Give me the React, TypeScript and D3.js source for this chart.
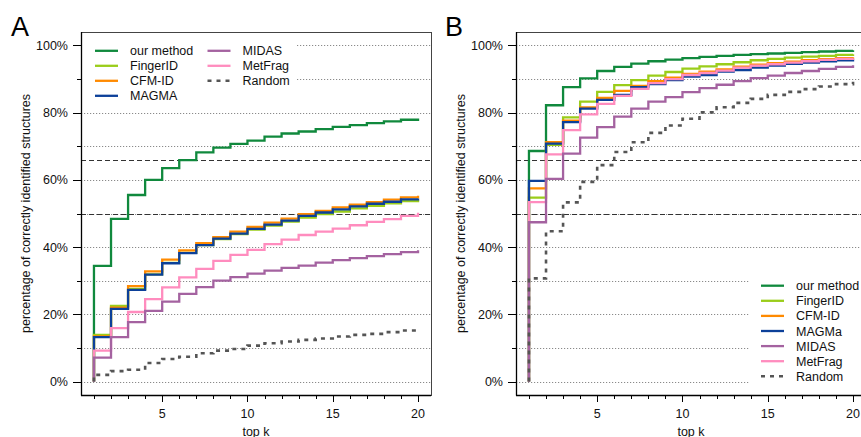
import React, { useEffect, useRef } from 'react';
import * as d3 from 'd3';

// values, percent of correctly identified structures
const topK = [1, 2, 3, 4, 5, 6, 7, 8, 9, 10, 11, 12, 13, 14, 15, 16, 17, 18, 19, 20];
const methodsA = ['our method', 'FingerID', 'CFM-ID', 'MAGMA', 'MIDAS', 'MetFrag', 'Random'];
const methodsB = ['our method', 'FingerID', 'CFM-ID', 'MAGMa', 'MIDAS', 'MetFrag', 'Random'];
const yTicks = [0, 20, 40, 60, 80, 100];
const xTicks = [5, 10, 15, 20];
const refLines = [50, 66];

// panel A
const ourA = [34.4, 48.4, 55.5, 60.0, 63.5, 65.9, 68.2, 69.6, 70.7, 71.7, 72.9, 73.8, 74.4, 75.1, 75.8, 76.3, 76.9, 77.4, 77.9, 78.3];
const fingerA = [13.9, 22.5, 27.6, 31.9, 35.3, 38.3, 40.6, 42.4, 43.9, 45.2, 46.4, 47.6, 48.8, 49.8, 50.6, 51.5, 52.3, 53.0, 53.7, 54.0];
const cfmA = [13.4, 22.0, 28.4, 32.8, 36.3, 39.0, 41.2, 43.0, 44.6, 46.0, 47.3, 48.5, 49.8, 50.8, 51.8, 52.6, 53.4, 54.1, 54.8, 55.3];
const magmaA = [13.2, 21.6, 27.3, 31.8, 35.2, 38.2, 40.6, 42.5, 44.0, 45.4, 46.7, 47.9, 49.3, 50.3, 51.2, 52.1, 52.9, 53.5, 54.2, 54.5];
const midasA = [7.1, 13.2, 17.7, 21.0, 23.8, 26.1, 28.1, 30.0, 31.1, 32.1, 33.0, 33.8, 34.5, 35.4, 36.1, 36.7, 37.3, 37.9, 38.5, 39.1];
const metfragA = [9.2, 15.9, 20.7, 24.5, 28.0, 31.0, 33.5, 35.9, 37.7, 39.2, 40.9, 42.2, 43.6, 44.6, 45.5, 46.5, 47.5, 48.3, 49.3, 50.2];
const randomA = [2.0, 3.1, 3.5, 5.5, 6.7, 7.4, 8.4, 9.2, 9.7, 10.7, 11.4, 11.9, 12.4, 12.8, 13.4, 13.9, 14.2, 14.7, 15.2, 15.6];

// panel B
const ourB = [68.6, 82.2, 87.6, 90.2, 92.4, 93.6, 94.6, 95.3, 95.8, 96.2, 96.6, 96.9, 97.2, 97.4, 97.6, 97.8, 98.0, 98.2, 98.4, 98.6];
const fingerB = [54.7, 70.4, 78.6, 83.3, 86.2, 88.2, 89.7, 91.0, 92.1, 93.1, 93.8, 94.4, 95.0, 95.6, 96.0, 96.4, 96.7, 96.9, 97.2, 97.4];
const cfmB = [57.5, 71.2, 77.6, 81.6, 84.4, 86.5, 88.0, 89.4, 90.4, 91.5, 92.2, 92.9, 93.7, 94.3, 94.7, 95.2, 95.6, 95.9, 96.2, 96.5];
const magmaB = [59.7, 70.8, 77.2, 81.2, 83.8, 85.3, 87.6, 88.5, 89.7, 90.7, 91.2, 92.2, 92.7, 93.4, 94.0, 94.5, 94.9, 95.3, 95.6, 95.9];
const midasB = [47.4, 60.3, 67.8, 72.6, 75.7, 78.8, 81.2, 83.3, 84.6, 86.1, 87.3, 88.3, 89.4, 90.3, 91.0, 91.8, 92.4, 93.0, 93.6, 94.1];
const metfragB = [53.4, 67.6, 74.8, 79.5, 82.6, 85.0, 87.1, 88.8, 90.0, 91.2, 91.8, 92.5, 93.4, 94.0, 94.4, 94.9, 95.3, 95.7, 96.0, 96.2];
const randomB = [30.7, 44.7, 53.3, 59.4, 64.4, 68.3, 71.2, 74.0, 76.2, 78.2, 80.1, 81.6, 82.9, 84.1, 85.3, 86.2, 87.0, 87.8, 88.5, 89.2];

const COLORS = ['#10893d', '#9acd1a', '#ff8a00', '#0c4099', '#a462a0', '#ff8cbe', '#555555'];
// drawing order: MetFrag goes under MIDAS, Random on top
const DRAW_ORDER = [0, 1, 2, 3, 5, 4, 6];
const FONT = '"Liberation Sans", Arial, Helvetica, sans-serif';
const W = 861;
const H = 437;
const TOP = 32;
const BOTTOM = 395;

const drawPanel = (svg, cfg) => {
  const { left, right, letter, letterX, series, names, legend } = cfg;
  const x = d3.scaleLinear().domain([0.24, 20.76]).range([left, right]);
  const y = d3.scaleLinear().domain([-4, 104]).range([BOTTOM, TOP]);
  const g = svg.append('g');

  // dotted grid every 10%
  g.selectAll('line.grid')
    .data(d3.range(0, 101, 10))
    .enter()
    .append('line')
    .attr('x1', left)
    .attr('x2', right)
    .attr('y1', (d) => Math.round(y(d)) + 0.5)
    .attr('y2', (d) => Math.round(y(d)) + 0.5)
    .attr('stroke', '#8a8a8a')
    .attr('stroke-width', 1)
    .attr('stroke-dasharray', '1.2,1.8');

  // dashed reference lines
  g.selectAll('line.ref')
    .data(refLines)
    .enter()
    .append('line')
    .attr('x1', left)
    .attr('x2', right)
    .attr('y1', (d) => Math.round(y(d)) + 0.5)
    .attr('y2', (d) => Math.round(y(d)) + 0.5)
    .attr('stroke', '#333')
    .attr('stroke-width', 1)
    .attr('stroke-dasharray', '5,3');

  // step curves, starting at 0 for k = 1
  const line = d3
    .line()
    .x((d) => x(d[0]))
    .y((d) => y(d[1]))
    .curve(d3.curveStepAfter);

  DRAW_ORDER.forEach((i) => {
    const pts = [[topK[0], 0], ...topK.map((k, j) => [k, series[i][j]])];
    g.append('path')
      .datum(pts)
      .attr('fill', 'none')
      .attr('stroke', COLORS[i])
      .attr('stroke-width', i === 6 ? 2.6 : 2.3)
      .attr('stroke-dasharray', i === 6 ? '4,5' : null)
      .attr('stroke-linejoin', 'miter')
      .attr('d', line);
  });

  // legend with white background
  g.append('rect')
    .attr('x', legend.box[0])
    .attr('y', legend.box[1])
    .attr('width', legend.box[2])
    .attr('height', legend.box[3])
    .attr('fill', 'white');

  names.forEach((name, i) => {
    const col = legend.cols[i];
    const lx = legend.colX[col];
    const ly = legend.y0 + legend.rowIdx[i] * legend.dy;
    g.append('line')
      .attr('x1', lx)
      .attr('x2', lx + 23)
      .attr('y1', ly)
      .attr('y2', ly)
      .attr('stroke', COLORS[i])
      .attr('stroke-width', i === 6 ? 2.6 : 2.3)
      .attr('stroke-dasharray', i === 6 ? '4,5' : null);
    g.append('text')
      .attr('x', lx + 35)
      .attr('y', ly + 4.5)
      .attr('font-size', 12.5)
      .attr('fill', '#111')
      .text(name);
  });

  // box
  g.append('rect')
    .attr('x', left + 0.5)
    .attr('y', TOP + 0.5)
    .attr('width', right - left)
    .attr('height', BOTTOM - TOP)
    .attr('fill', 'none')
    .attr('stroke', '#444')
    .attr('stroke-width', 1);

  // y axis
  g.append('line')
    .attr('x1', left + 0.5)
    .attr('x2', left + 0.5)
    .attr('y1', TOP)
    .attr('y2', BOTTOM + 0.5)
    .attr('stroke', '#000')
    .attr('stroke-width', 1.3);

  g.selectAll('line.ytick')
    .data(d3.range(0, 101, 10))
    .enter()
    .append('line')
    .attr('x1', (d) => left - (d % 20 === 0 ? 8 : 4))
    .attr('x2', left)
    .attr('y1', (d) => Math.round(y(d)) + 0.5)
    .attr('y2', (d) => Math.round(y(d)) + 0.5)
    .attr('stroke', '#000');

  g.selectAll('text.ytick')
    .data(yTicks)
    .enter()
    .append('text')
    .attr('x', left - 13)
    .attr('y', (d) => y(d) + 4.4)
    .attr('text-anchor', 'end')
    .attr('font-size', 12.5)
    .attr('fill', '#111')
    .text((d) => `${d}%`);

  // x axis
  g.append('line')
    .attr('x1', left)
    .attr('x2', right)
    .attr('y1', BOTTOM + 0.5)
    .attr('y2', BOTTOM + 0.5)
    .attr('stroke', '#000')
    .attr('stroke-width', 1.3);

  g.selectAll('line.xtick')
    .data(topK)
    .enter()
    .append('line')
    .attr('x1', (d) => Math.round(x(d)) + 0.5)
    .attr('x2', (d) => Math.round(x(d)) + 0.5)
    .attr('y1', BOTTOM)
    .attr('y2', (d) => BOTTOM + (d % 5 === 0 ? 7 : 4))
    .attr('stroke', '#000');

  g.selectAll('text.xtick')
    .data(xTicks)
    .enter()
    .append('text')
    .attr('x', (d) => x(d))
    .attr('y', 417.5)
    .attr('text-anchor', 'middle')
    .attr('font-size', 12.5)
    .attr('fill', '#111')
    .text((d) => d);

  g.append('text')
    .attr('x', (left + right) / 2)
    .attr('y', 435.5)
    .attr('text-anchor', 'middle')
    .attr('font-size', 12.5)
    .attr('fill', '#111')
    .text('top k');

  g.append('text')
    .attr('transform', `translate(${left - 51},${(TOP + BOTTOM) / 2}) rotate(-90)`)
    .attr('text-anchor', 'middle')
    .attr('font-size', 12.5)
    .attr('fill', '#111')
    .text('percentage of correctly identified structures');

  g.append('text')
    .attr('x', letterX)
    .attr('y', 36)
    .attr('font-size', 27)
    .attr('fill', '#000')
    .text(letter);
};

const App = () => {
  const svgRef = useRef(null);

  useEffect(() => {
    const svg = d3.select(svgRef.current);
    svg.selectAll('*').remove();

    drawPanel(svg, {
      left: 81,
      right: 431,
      letter: 'A',
      letterX: 11,
      names: methodsA,
      series: [ourA, fingerA, cfmA, magmaA, midasA, metfragA, randomA],
      legend: {
        box: [82, 38, 214, 68],
        colX: [95, 207.5],
        cols: [0, 0, 0, 0, 1, 1, 1],
        rowIdx: [0, 1, 2, 3, 0, 1, 2],
        y0: 50.8,
        dy: 15,
      },
    });

    drawPanel(svg, {
      left: 516,
      right: 866,
      letter: 'B',
      letterX: 445,
      names: methodsB,
      series: [ourB, fingerB, cfmB, magmaB, midasB, metfragB, randomB],
      legend: {
        box: [750, 262, 120, 128],
        colX: [761],
        cols: [0, 0, 0, 0, 0, 0, 0],
        rowIdx: [0, 1, 2, 3, 4, 5, 6],
        y0: 285.7,
        dy: 15.1,
      },
    });
  }, []);

  return (
    <svg
      ref={svgRef}
      width={W}
      height={H}
      style={{ position: 'absolute', left: 0, top: 0, background: 'white', fontFamily: FONT }}
    ></svg>
  );
};

export default App;
